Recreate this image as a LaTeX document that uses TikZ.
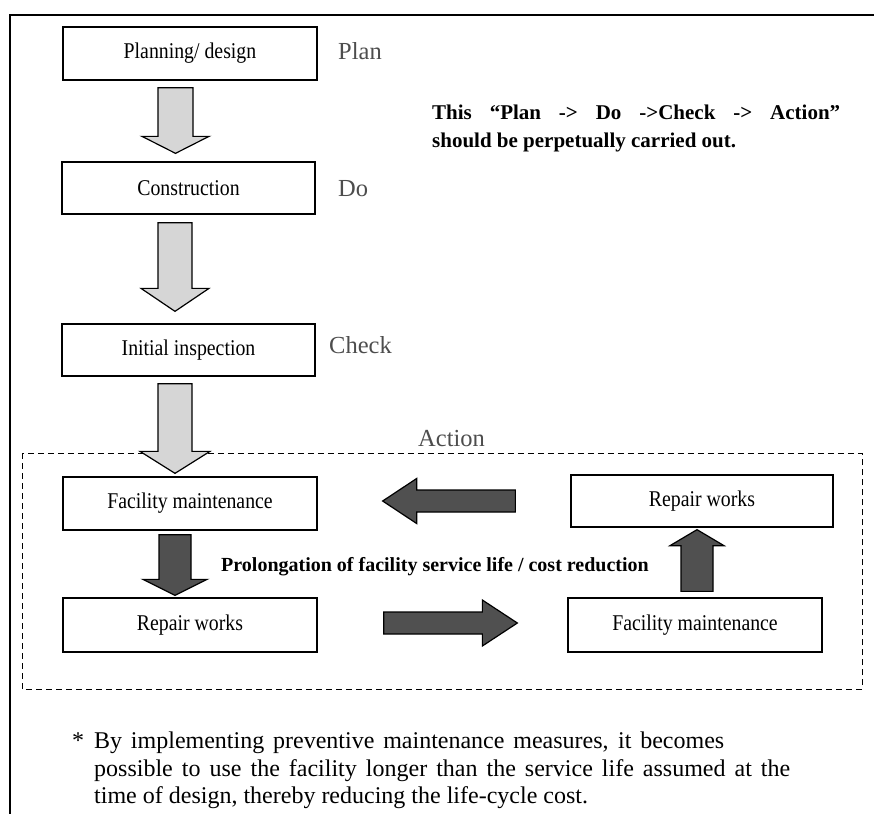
\documentclass[tikz,border=0pt]{standalone}
\usepackage{fontspec}
\setmainfont{Liberation Serif}
\newfontfamily\boxfont[FakeStretch=0.88]{Liberation Serif}
\usetikzlibrary{calc}

\definecolor{stagegray}{HTML}{4D4D4D}
\definecolor{lightfill}{HTML}{D6D6D6}
\definecolor{darkfill}{HTML}{505050}

% Block arrows: #1 style, #2 start of shaft (centre), #3 tip, #4 half shaft width,
% #5 half head width, #6 head length
\newcommand\blockdown[6]{\draw[#1] let \p1=#2, \p2=#3 in
  (\x1-#4,\y1) -- (\x1+#4,\y1) -- (\x1+#4,\y2+#6) -- (\x1+#5,\y2+#6) -- (\x1,\y2)
  -- (\x1-#5,\y2+#6) -- (\x1-#4,\y2+#6) -- cycle;}
\newcommand\blockup[6]{\draw[#1] let \p1=#2, \p2=#3 in
  (\x1-#4,\y1) -- (\x1+#4,\y1) -- (\x1+#4,\y2-#6) -- (\x1+#5,\y2-#6) -- (\x1,\y2)
  -- (\x1-#5,\y2-#6) -- (\x1-#4,\y2-#6) -- cycle;}
\newcommand\blockright[6]{\draw[#1] let \p1=#2, \p2=#3 in
  (\x1,\y1-#4) -- (\x1,\y1+#4) -- (\x2-#6,\y1+#4) -- (\x2-#6,\y1+#5) -- (\x2,\y1)
  -- (\x2-#6,\y1-#5) -- (\x2-#6,\y1-#4) -- cycle;}
\newcommand\blockleft[6]{\draw[#1] let \p1=#2, \p2=#3 in
  (\x1,\y1-#4) -- (\x1,\y1+#4) -- (\x2+#6,\y1+#4) -- (\x2+#6,\y1+#5) -- (\x2,\y1)
  -- (\x2+#6,\y1-#5) -- (\x2+#6,\y1-#4) -- cycle;}

\begin{document}
\begin{tikzpicture}[x=1pt,y=-1pt,
  stepbox/.style={draw, line width=1.3pt, inner sep=0pt, fill=white,
    font=\boxfont\fontsize{22.5}{24}\selectfont},
  stage/.style={inner sep=0pt, anchor=base west, text=stagegray,
    font=\fontsize{24.5}{26}\selectfont},
  notetext/.style={inner sep=0pt, anchor=base west,
    font=\bfseries\fontsize{21}{28}\selectfont},
  foottext/.style={inner sep=0pt, anchor=base west,
    font=\fontsize{24}{27}\selectfont},
  lightarrow/.style={draw, line width=1.2pt, fill=lightfill, line join=miter},
  darkarrow/.style={draw, line width=1.2pt, fill=darkfill, line join=miter},
  groupframe/.style={line width=1pt, dash pattern=on 6pt off 4pt}]

\useasboundingbox (0,0) rectangle (874,814);

% outer frame (open on the right and at the bottom)
\draw[line width=2.4pt] (874,15) -- (10,15) -- (10,814);

% PDCA chain
\node[stepbox, minimum width=254pt, minimum height=53pt] (pd)  at (190,53.5) {Planning/ design};
\node[stepbox, minimum width=253pt, minimum height=52pt] (con) at (188.5,188) {Construction};
\node[stepbox, minimum width=253pt, minimum height=52pt] (ins) at (188.5,350) {Initial inspection};

\node[stage] (plan)  at (338,59)  {Plan};
\node[stage] (do)    at (338,196) {Do};
\node[stage] (check) at (329,353) {Check};

\node[notetext] (note1) at (432,119)
  {\makebox[408pt][s]{This “Plan -> Do ->Check -> Action”}};
\node[notetext] (note2) at (432,147) {should be perpetually carried out.};

% action loop
\draw[groupframe] (22,453) rectangle (862,689);
\node[stage] (act) at (418,446) {Action};

\node[stepbox, minimum width=254pt, minimum height=53pt] (fm1) at (190,503.5) {Facility maintenance};
\node[stepbox, minimum width=254pt, minimum height=54pt] (rw1) at (190,625) {Repair works};
\node[stepbox, minimum width=262pt, minimum height=52pt] (rw2) at (702,501) {Repair works};
\node[stepbox, minimum width=254pt, minimum height=54pt] (fm2) at (695,625) {Facility maintenance};

\node[notetext, anchor=base, font=\bfseries\fontsize{20}{24}\selectfont] (gain) at (435,571)
  {Prolongation of facility service life / cost reduction};

% arrows between stages
\blockdown{lightarrow}{($(pd.south)+(-14.5,7)$)}{($(con.north)+(0,-8)$)}{17.5pt}{33.5pt}{17pt}
\blockdown{lightarrow}{($(con.south)+(-13.5,8)$)}{($(ins.north)+(0,-12)$)}{17pt}{34pt}{23pt}
\blockdown{lightarrow}{($(ins.south)+(-13.5,7)$)}{($(fm1.north)+(0,-3)$)}{17pt}{35pt}{22pt}

\blockdown{darkarrow}{($(fm1.south)+(-15,4)$)}{($(rw1.north)+(0,-2)$)}{16pt}{32pt}{16pt}
\blockright{darkarrow}{($(rw1.east)+(66,-2)$)}{($(fm2.west)+(-50,0)$)}{11pt}{23pt}{35pt}
\blockup{darkarrow}{($(fm2.north)+(2,-6)$)}{($(rw2.south)+(0,2)$)}{16pt}{27pt}{16pt}
\blockleft{darkarrow}{($(rw2.west)+(-55,0)$)}{($(fm1.east)+(65,0)$)}{11pt}{22.5pt}{34pt}

% footnote
\node[foottext] (star) at (72,748) {*};
\node[foottext] (fn1) at (94,748)
  {\makebox[630pt][s]{By implementing preventive maintenance measures, it becomes}};
\node[foottext] (fn2) at (94,776)
  {\makebox[696pt][s]{possible to use the facility longer than the service life assumed at the}};
\node[foottext] (fn3) at (94,803) {time of design, thereby reducing the life-cycle cost.};
\end{tikzpicture}
\end{document}
